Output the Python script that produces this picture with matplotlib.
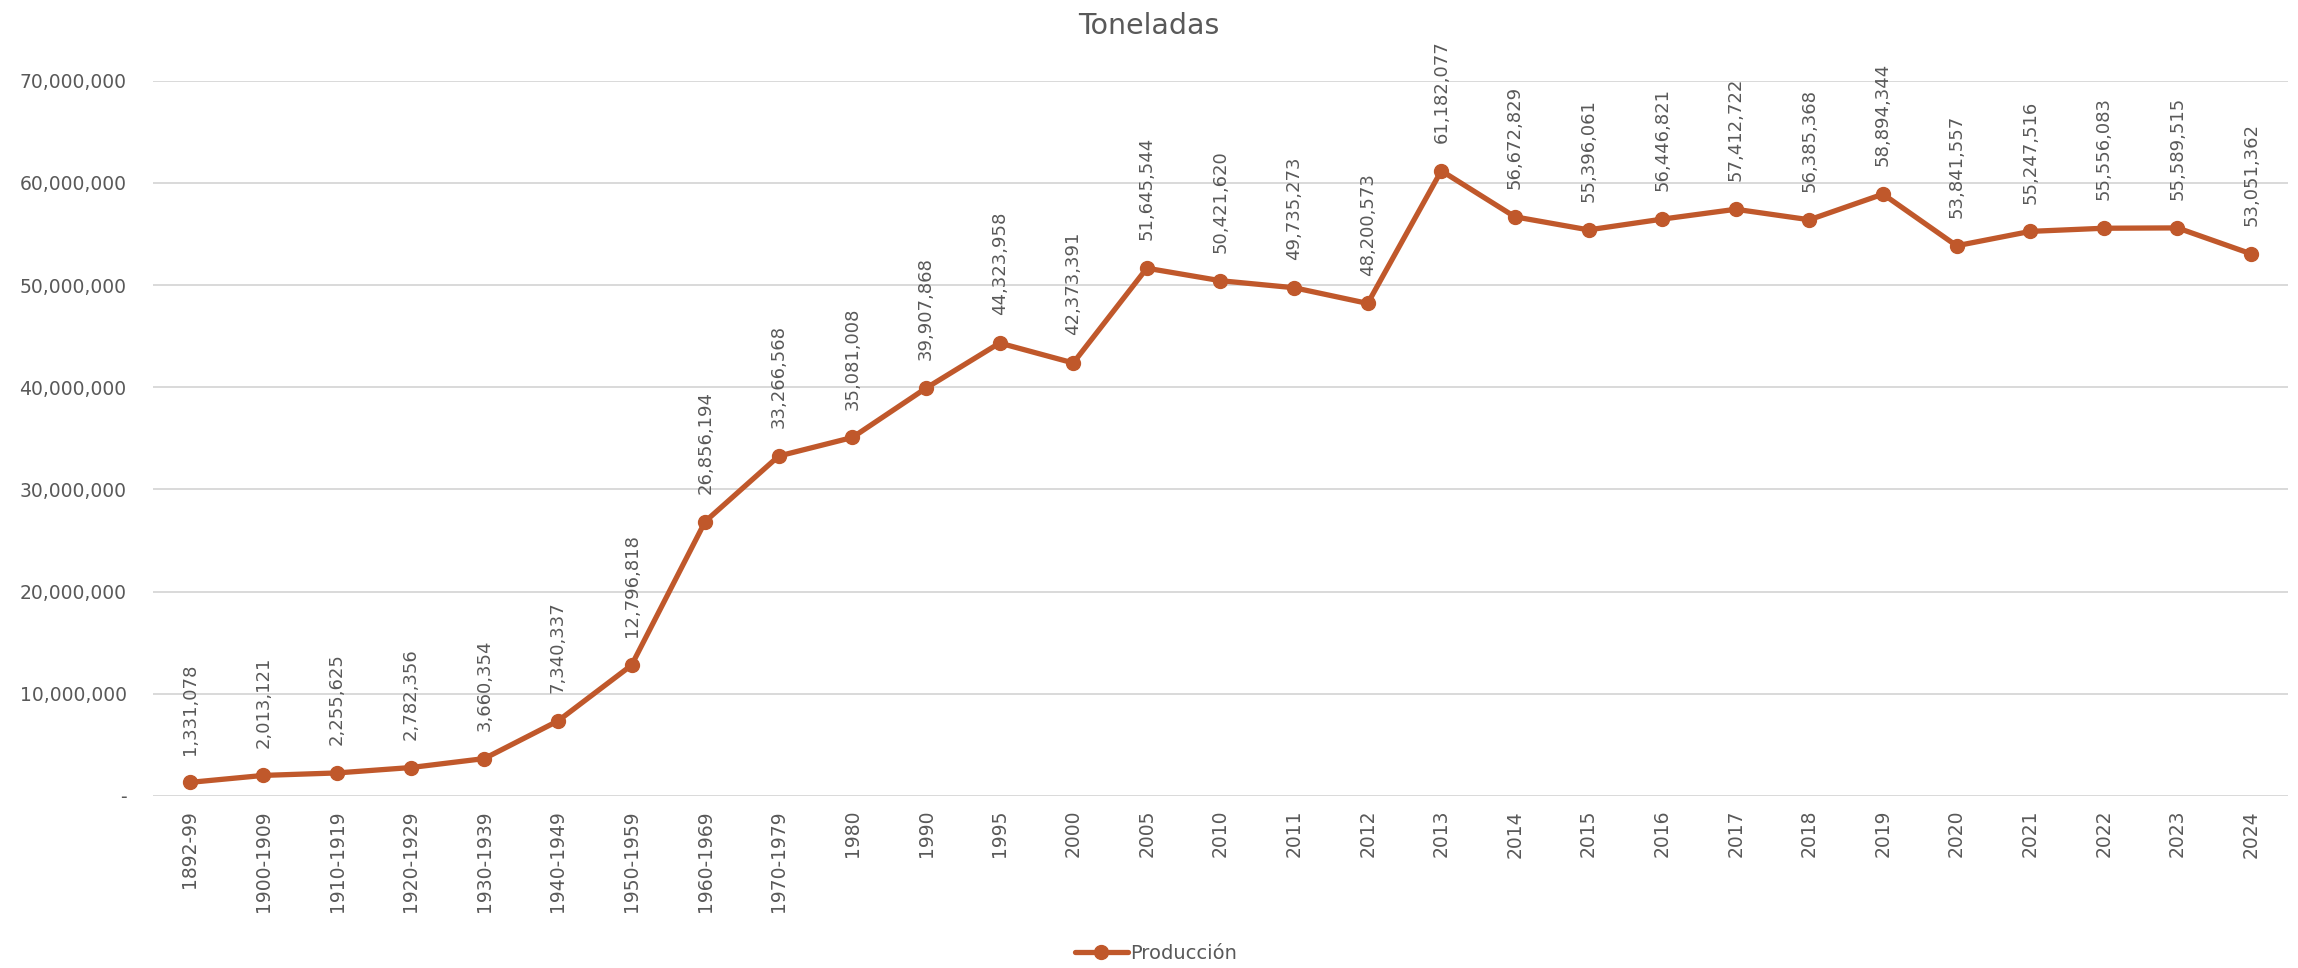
import matplotlib
matplotlib.use("Agg")
import matplotlib.pyplot as plt
from matplotlib.ticker import FuncFormatter

periodos = ["1892-99", "1900-1909", "1910-1919", "1920-1929", "1930-1939",
            "1940-1949", "1950-1959", "1960-1969", "1970-1979", "1980", "1990",
            "1995", "2000", "2005", "2010", "2011", "2012", "2013", "2014",
            "2015", "2016", "2017", "2018", "2019", "2020", "2021", "2022",
            "2023", "2024"]
produccion = [1331078, 2013121, 2255625, 2782356, 3660354, 7340337, 12796818,
              26856194, 33266568, 35081008, 39907868, 44323958, 42373391,
              51645544, 50421620, 49735273, 48200573, 61182077, 56672829,
              55396061, 56446821, 57412722, 56385368, 58894344, 53841557,
              55247516, 55556083, 55589515, 53051362]

color = "#C0582B"
gris = "#595959"

plt.rcParams["font.family"] = ["DejaVu Sans"]

fig = plt.figure(figsize=(22.98, 9.68), dpi=100)
ax = fig.add_axes([0.0666, 0.1777, 0.929, 0.739])

x = list(range(len(periodos)))
ax.plot(x, produccion, color=color, lw=3.8, marker="o", ms=10,
        label="Producción", solid_capstyle="round")

# etiquetas de datos verticales sobre cada punto
for xi, v in zip(x, produccion):
    ax.annotate(f"{v:,}", (xi, v), xytext=(0, 20), textcoords="offset points",
                rotation=90, ha="center", va="bottom", fontsize=13, color=gris)

ax.set_xlim(-0.5, len(periodos) - 0.5)
ax.set_ylim(0, 70000000)
ax.set_yticks(range(0, 70000001, 10000000))
ax.yaxis.set_major_formatter(FuncFormatter(lambda v, p: "-" if v == 0 else f"{int(v):,}"))
ax.set_xticks(x)
ax.set_xticklabels(periodos, rotation=90, va="top")

ax.tick_params(axis="both", length=0, colors=gris, labelsize=13.5)
ax.tick_params(axis="x", pad=10)
ax.tick_params(axis="y", pad=19)
for s in ax.spines.values():
    s.set_visible(False)
ax.grid(axis="y", color="#D9D9D9", lw=1.4)
ax.set_axisbelow(True)

fig.text(0.5, 0.973, "Toneladas", ha="center", va="center", fontsize=20.5, color=gris)

leg = fig.legend(loc="center", bbox_to_anchor=(0.503, 0.015), frameon=False,
                 fontsize=14, handlelength=2.7, handletextpad=0.1)
for t in leg.get_texts():
    t.set_color(gris)

fig.savefig("out.png", dpi=100, facecolor="white")
